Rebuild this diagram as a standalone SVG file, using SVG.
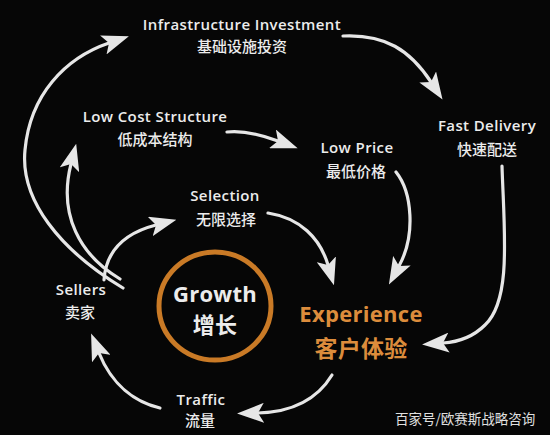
<svg xmlns="http://www.w3.org/2000/svg" width="550" height="435" viewBox="0 0 550 435">
  <style>
    .en { font-family: "Open Sans", "Noto Sans CJK SC", sans-serif; font-weight: 600; font-size: 15px; letter-spacing: 0.4px; fill: #ececec; text-anchor: middle; }
    .zh { font-family: "Noto Sans CJK SC", sans-serif; font-weight: 500; font-size: 15px; fill: #ececec; text-anchor: middle; }
    .big { font-size: 22px; font-weight: 700; letter-spacing: 0.3px; }
    .orange { fill: #dc8c3c; }
    .arrow { fill: none; stroke: #e6e6e6; stroke-width: 3.2; stroke-linecap: round; marker-end: url(#head); }
  </style>
  <defs>
    <marker id="head" viewBox="0 0 27 20" markerWidth="27" markerHeight="20" markerUnits="userSpaceOnUse" refX="6" refY="10" orient="auto">
      <path d="M0,0 L27,10 L0,20 L6,10 Z" fill="#e6e6e6"/>
    </marker>
  </defs>
  <rect width="550" height="435" fill="#060606"/>

  <g id="connectors">
    <path class="arrow" d="M123,288 C60,250 20,200 25,150 C30,95 65,58 109,43"/>
    <path class="arrow" d="M120,279 C80,255 58,215 71,164"/>
    <path class="arrow" d="M104,280 C106,250 125,233 156,225"/>
    <path class="arrow" d="M227,132 C245,130 262,135 278,141"/>
    <path class="arrow" d="M343,36 C385,34 410,50 431,82"/>
    <path class="arrow" d="M396,172 C412,192 416,235 399,266"/>
    <path class="arrow" d="M268,213 C300,218 320,238 328,265"/>
    <path class="arrow" d="M502,166 C504,230 512,300 485,325 C472,338 458,342 443,343"/>
    <path class="arrow" d="M332,375 C318,398 295,412 258,413"/>
    <path class="arrow" d="M160,408 C135,402 112,385 99,353"/>
  </g>

  <g id="infrastructure">
    <text class="en" x="242" y="30">Infrastructure Investment</text>
    <text class="zh" x="242" y="52">基础设施投资</text>
  </g>
  <g id="low-cost">
    <text class="en" x="155" y="122">Low Cost Structure</text>
    <text class="zh" x="155" y="145">低成本结构</text>
  </g>
  <g id="low-price">
    <text class="en" x="357" y="153">Low Price</text>
    <text class="zh" x="356" y="177">最低价格</text>
  </g>
  <g id="fast-delivery">
    <text class="en" x="487" y="131">Fast Delivery</text>
    <text class="zh" x="487" y="155">快速配送</text>
  </g>
  <g id="selection">
    <text class="en" x="225" y="201">Selection</text>
    <text class="zh" x="226" y="225">无限选择</text>
  </g>
  <g id="sellers">
    <text class="en" x="81" y="295">Sellers</text>
    <text class="zh" x="80" y="318">卖家</text>
  </g>
  <g id="growth">
    <ellipse cx="215" cy="306" rx="56" ry="54" fill="none" stroke="#c97a26" stroke-width="5"/>
    <text class="en big" x="215" y="302">Growth</text>
    <text class="zh big" x="215" y="333">增长</text>
  </g>
  <g id="experience">
    <text class="en big orange" x="361" y="322">Experience</text>
    <text class="zh big orange" x="361" y="357" style="font-size:23px">客户体验</text>
  </g>
  <g id="traffic">
    <text class="en" x="201" y="405">Traffic</text>
    <text class="zh" x="200" y="426">流量</text>
  </g>
  <text x="395" y="424" style="font-family:'Noto Sans CJK SC',sans-serif;font-size:13.5px;fill:#e0e0e0">百家号/欧赛斯战略咨询</text>
</svg>
